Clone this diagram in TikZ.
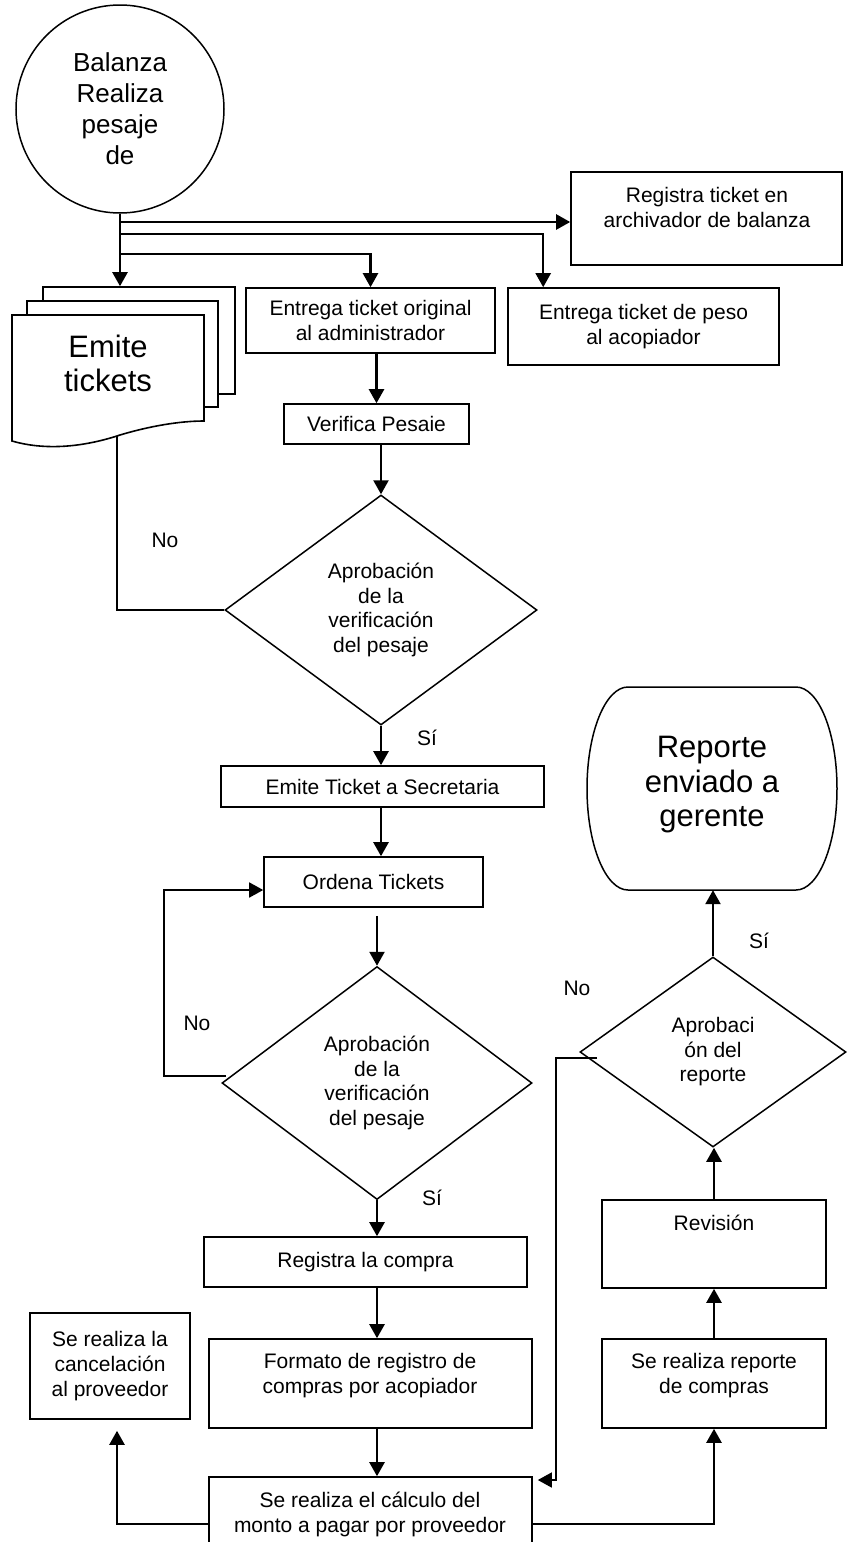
\documentclass[tikz,border=0pt]{standalone}
\usepackage{fontspec}
\setmainfont{Liberation Sans}
\usetikzlibrary{arrows.meta,shapes.geometric,calc}
\begin{document}
\begin{tikzpicture}[x=1pt,y=-1pt,
  box/.style={draw, line width=1.6pt, inner sep=0pt, align=center, font=\fontsize{21}{25}\selectfont},
  txt/.style={inner sep=0pt, align=center, font=\fontsize{21}{25}\selectfont},
  bigtxt/.style={inner sep=0pt, align=center, font=\fontsize{31}{34.5}\selectfont},
  dia/.style={draw, diamond, line width=1.5pt, inner sep=0pt, align=center, font=\fontsize{21}{24.5}\selectfont},
  arr/.style={line width=2.4pt, -{Triangle[length=14pt,width=15pt]}},
  back/.style={line width=1.7pt, -{Triangle[length=14pt,width=15pt]}},
  noline/.style={line width=1.5pt},
]
\useasboundingbox (0,0) rectangle (849,1542);
\clip (0,0) rectangle (849,1542);

% start circle
\node[draw, circle, line width=1.5pt, minimum size=208pt, inner sep=0pt, align=center,
      font=\fontsize{26}{31}\selectfont] (circ) at (120,109) {Balanza\\Realiza\\pesaje\\de};

% multi-document "Emite tickets"
\node[box, fill=white, minimum width=192pt, minimum height=107pt] (doc3) at (139,340.5) {};
\node[box, fill=white, minimum width=191pt, minimum height=106pt] (doc2) at (122.5,354) {};
\draw[line width=1.6pt, fill=white] (12,315) -- (204,315) -- (204,421)
  .. controls (180,421) and (150,426) .. (120,435)
  .. controls (90,445) and (50,452) .. (12,441) -- cycle;
\node[bigtxt] (emite) at (108,363.5) {Emite\\tickets};
\coordinate (docb) at (117,436);

% top row boxes
\node[box, minimum width=271pt, minimum height=93pt] (reg) at (706.5,218.5) {};
\node[txt] (regt) at (707,207.5) {Registra ticket en\\archivador de balanza};
\node[box, minimum width=271pt, minimum height=77pt] (peso) at (643.5,326.5) {Entrega ticket de peso\\al acopiador};
\node[box, minimum width=249pt, minimum height=65pt] (orig) at (370.5,320.5) {Entrega ticket original\\al administrador};
\node[box, minimum width=185pt, minimum height=40pt] (verif) at (376.5,424) {Verifica Pesaie};

% first decision
\node[dia, minimum width=312pt, minimum height=230pt] (d1) at (381,610) {Aprobación\\de la\\verificación\\del pesaje};
\node[box, minimum width=323pt, minimum height=41pt] (sec) at (382.5,786.5) {Emite Ticket a Secretaria};
\node[box, minimum width=219pt, minimum height=50pt] (ord) at (373.5,882) {Ordena Tickets};

% second decision
\node[dia, minimum width=310pt, minimum height=233pt] (d2) at (377,1083) {Aprobación\\de la\\verificación\\del pesaje};
\node[box, minimum width=323pt, minimum height=50pt] (regc) at (365.5,1262) {Registra la compra};
\node[box, minimum width=323pt, minimum height=89pt] (form) at (370.5,1383.5) {};
\node[txt] (formt) at (370,1375.5) {Formato de registro de\\compras por acopiador};
\node[box, minimum width=323pt, minimum height=94pt] (calc) at (370.5,1524) {};
\node[txt] (calct) at (370,1514) {Se realiza el cálculo del\\monto a pagar por proveedor};
\node[box, minimum width=160pt, minimum height=106pt] (canc) at (110,1366) {Se realiza la\\cancelación\\al proveedor};

% right column
\node[box, minimum width=224pt, minimum height=88pt] (rev) at (714,1244) {};
\node[txt] (revt) at (714,1223) {Revisión};
\node[box, minimum width=224pt, minimum height=89pt] (rep2) at (714,1383.5) {};
\node[txt] (rep2t) at (714,1375.5) {Se realiza reporte\\de compras};
\node[dia, minimum width=266pt, minimum height=190pt] (d3) at (713,1052) {Aprobaci\\ón del\\reporte};

% terminal "Reporte enviado a gerente"
\draw[line width=1.5pt] (628,687) -- (796,687)
  .. controls (818.6,687) and (837,732.5) .. (837,788.5)
  .. controls (837,844.5) and (818.6,890) .. (796,890) -- (628,890)
  .. controls (605.4,890) and (587,844.5) .. (587,788.5)
  .. controls (587,732.5) and (605.4,687) .. (628,687) -- cycle;
\node[minimum width=250pt, minimum height=203pt, inner sep=0pt] (repbox) at (712,788.5) {};
\node[bigtxt] (rept) at (712,785) {Reporte\\enviado a\\gerente};

% connectors from the start circle
\coordinate (j1) at (120,222);
\coordinate (j2) at (120,234);
\coordinate (j3) at (120,254);
\draw[arr] (circ.south) -- (circ.south |- doc3.north);
\draw[arr] (j1) -- (j1 -| reg.west);
\draw[arr] (j2) -| ($(peso.north west)+(36,0)$);
\draw[arr] (j3) -| (orig.north);

% main flow
\draw[arr] (verif.north |- orig.south) -- (verif.north);
\draw[arr] (d1.north |- verif.south) -- (d1.north);
\draw[noline] (docb) |- (d1.west);
\draw[arr] (d1.south) -- (d1.south |- sec.north);
\draw[arr] (d1.south |- sec.south) -- (d1.south |- ord.north);
\draw[arr, shorten <=8pt] (d2.north |- ord.south) -- (d2.north);
\coordinate (n2a) at (226,1076);
\coordinate (n2b) at (164,890);
\draw[back] (n2a) -| (n2b) -- (n2b -| ord.west);
\draw[arr] (d2.south) -- (d2.south |- regc.north);
\draw[arr] (d2.south |- regc.south) -- (d2.south |- form.north);
\draw[arr] (d2.south |- form.south) -- (d2.south |- calc.north);
\draw[arr] (calc.west) -| ($(canc.south)+(7,11)$);
\draw[arr] (calc.east) -| (rep2.south);
\draw[arr] (rep2.north) -- (rev.south);
\draw[arr] (rev.north) -- (rev.north |- d3.south);
\draw[arr] (d3.north) -- (d3.north |- repbox.south);
\coordinate (n3a) at (597,1058);
\coordinate (n3b) at (556,1480);
\draw[back, line width=1.5pt] (n3a) -| (n3b) -- ($(n3b -| calc.east)+(5,0)$);

% labels
\node[txt] (no1) at (165,540) {No};
\node[txt] (si1) at (427,738) {Sí};
\node[txt] (no2) at (197,1023) {No};
\node[txt] (si2) at (432,1198) {Sí};
\node[txt] (no3) at (577,988) {No};
\node[txt] (si3) at (759,941) {Sí};
\end{tikzpicture}
\end{document}
